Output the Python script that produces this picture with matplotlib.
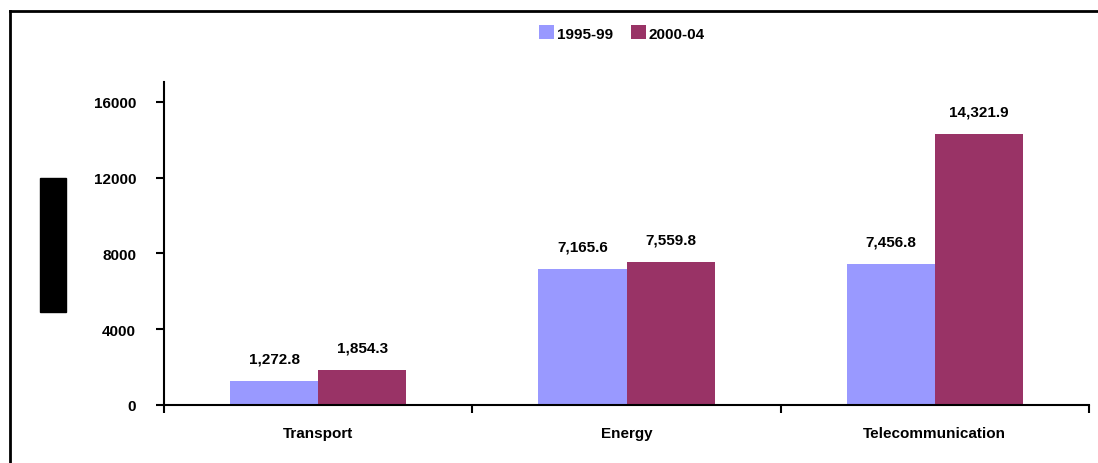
import matplotlib
matplotlib.use("Agg")
import matplotlib.pyplot as plt
from matplotlib.patches import Rectangle
from matplotlib.lines import Line2D
import numpy as np

categories = ["Transport", "Energy", "Telecommunication"]
series_names = ["1995-99", "2000-04"]
values_1995_99 = [1272.8, 7165.6, 7456.8]
values_2000_04 = [1854.3, 7559.8, 14321.9]
labels_1995_99 = ["1,272.8", "7,165.6", "7,456.8"]
labels_2000_04 = ["1,854.3", "7,559.8", "14,321.9"]
yticks = [0, 4000, 8000, 12000, 16000]
colors = ["#9999FF", "#993366"]

W, H = 1098, 464
fig = plt.figure(figsize=(W / 100, H / 100), dpi=100)
plt.rcParams['font.family'] = ['Liberation Sans', 'DejaVu Sans']

def fx(px):
    return px / W

def fy(py):
    return 1 - py / H

ax = fig.add_axes([fx(164), fy(406), fx(1089) - fx(164), fy(83) - fy(406)])

x = np.arange(len(categories))
bw = 0.286
b1 = ax.bar(x - bw / 2, values_1995_99, bw, color=colors[0], label=series_names[0])
b2 = ax.bar(x + bw / 2, values_2000_04, bw, color=colors[1], label=series_names[1])

ax.bar_label(b1, labels=labels_1995_99, padding=11, fontsize=11, fontweight='bold')
ax.bar_label(b2, labels=labels_2000_04, padding=11, fontsize=11, fontweight='bold')

ax.set_xlim(-0.5, 2.5)
ax.set_ylim(0, 17050)
ax.set_yticks(yticks)
ax.set_yticklabels([str(v) for v in yticks], fontsize=11, fontweight='bold')
ax.tick_params(axis='y', length=6, width=1.5, pad=14)

ax.set_xticks([-0.5, 0.5, 1.5, 2.5])
ax.set_xticklabels([])
ax.tick_params(axis='x', which='major', length=6, width=1.5)
ax.set_xticks(x, minor=True)
ax.set_xticklabels(categories, minor=True, fontsize=11, fontweight='bold')
ax.tick_params(axis='x', which='minor', length=0, pad=15)

for s in ['top', 'right']:
    ax.spines[s].set_visible(False)
for s in ['left', 'bottom']:
    ax.spines[s].set_linewidth(1.5)

leg = fig.legend(loc='center', bbox_to_anchor=(fx(622), fy(34)), ncol=2, frameon=False,
                 prop={'size': 11, 'weight': 'bold'}, handlelength=1.0, handleheight=1.0,
                 handletextpad=0.15, columnspacing=1.2)

# figure frame (top and left edges visible)
fig.add_artist(Line2D([fx(10), 1.0], [fy(12), fy(12)], color='black', lw=2, transform=fig.transFigure))
fig.add_artist(Line2D([fx(10), fx(10)], [fy(12), 0.0], color='black', lw=2, transform=fig.transFigure))

# black block at left (axis title placeholder)
fig.add_artist(Rectangle((fx(40), fy(313)), fx(66) - fx(40), fy(179) - fy(313),
                         color='black', transform=fig.transFigure))

fig.savefig("out.png", dpi=100)
